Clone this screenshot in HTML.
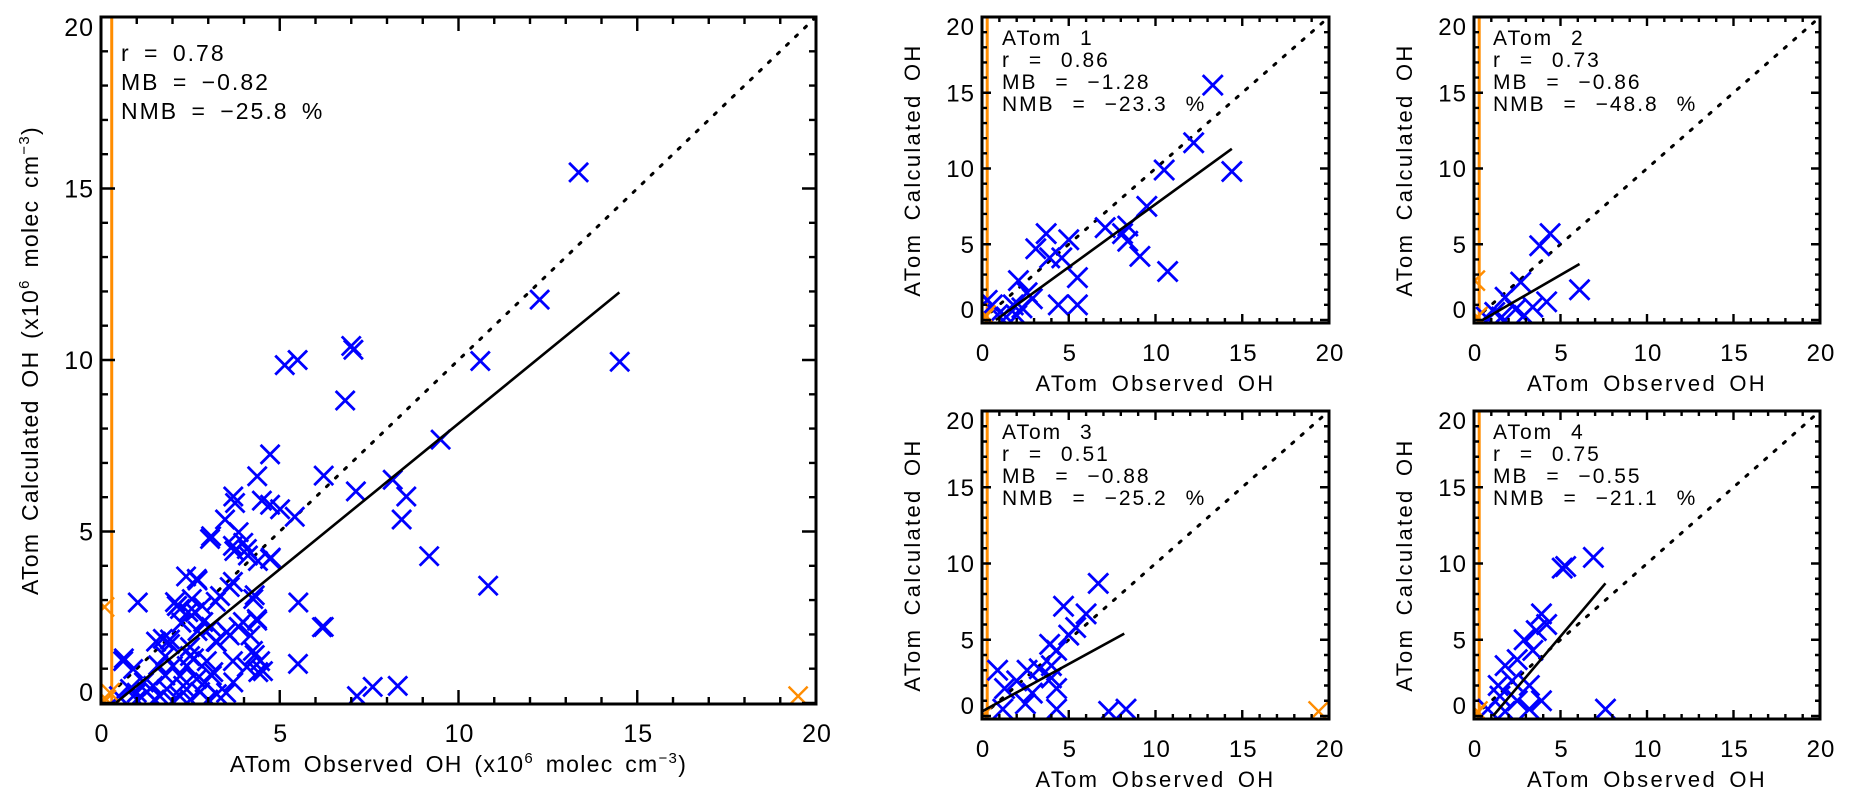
<!DOCTYPE html>
<html><head><meta charset="utf-8"><style>
html,body{margin:0;padding:0;background:#fff;}
svg{display:block;font-family:"Liberation Sans",sans-serif;}
</style></head><body>
<svg id="chart" width="1852" height="803" viewBox="0 0 1852 803" xmlns="http://www.w3.org/2000/svg"></svg>
<script>
// ---- data ----
const tickValues = [0, 5, 10, 15, 20];
const tickLabels = ["0", "5", "10", "15", "20"];

const allObs = [13.36,12.27,10.61,14.51,5.14,5.5,7.0,7.06,6.83,9.5,4.73,4.37,6.23,8.16,8.54,7.13,3.7,3.75,4.5,4.73,5.01,5.42,3.47,8.41,3.08,3.85,3.98,3.73,4.11,4.75,9.18,10.83,2.38,2.7,3.6,4.3,1.03,2.12,2.44,2.83,3.21,5.52,2.25,2.7,3.08,3.85,4.37,4.18,6.23,1.54,1.93,3.21,3.6,1.8,0.64,2.07,2.54,2.21,2.63,2.86,3.33,4.26,3.97,4.36,6.18,3.52,1.73,1.93,2.49,3.24,0.62,0.9,3.69,4.25,4.45,4.08,4.53,5.51,2.96,3.14,2.4,2.21,2.68,7.16,7.6,8.3,3.24,2.77,1.84,1.46,1.28,0.81,1.65,2.21,2.01,2.49,2.68,3.69,4.39,4.73,3.69,4.08,3.05,2.13,1.0,1.5,2.0,2.5,3.0,0.5,1.2,1.8,2.3,2.9,3.5,1.0,1.6,2.6,3.1,3.7,4.4,4.3];
const allCalc = [15.47,11.76,9.97,9.95,9.85,10.0,10.41,10.3,8.82,7.68,7.25,6.61,6.63,6.51,6.02,6.17,6.02,5.83,5.9,5.78,5.65,5.43,5.35,5.35,4.86,4.98,4.67,4.43,4.3,4.24,4.28,3.42,3.69,3.57,3.38,3.14,2.93,2.83,2.65,2.83,2.95,2.93,2.34,2.1,2.22,2.22,2.4,1.97,2.22,1.79,1.85,1.79,1.97,1.36,1.3,2.94,3.03,2.74,2.65,2.36,3.12,3.03,2.36,2.45,2.21,2.07,1.87,1.72,1.63,1.78,1.22,0.99,1.22,1.52,1.22,1.05,0.93,1.14,1.22,0.9,1.08,0.79,0.7,0.2,0.47,0.5,0.26,0.32,0.41,0.5,0.32,0.41,0.2,0.2,1.08,1.37,3.62,3.53,4.14,4.2,4.58,4.49,4.78,2.83,0.1,0.1,0.05,0.1,0.1,0.2,0.6,0.8,0.5,0.6,0.3,0.3,1.1,1.3,0.8,0.6,0.9,1.4];
const allOrangeObs = [0.1, 0.15, 0.25, 19.5];
const allOrangeCalc = [2.8, 0.1, 0.3, 0.2];
const allFitX = [0.41, 14.5];
const allFitY = [0, 11.97];
const allStats = ["r = 0.78", "MB = \u22120.82", "NMB = \u221225.8 %"];

const a1Obs = [13.3,12.2,10.5,14.4,9.5,7.1,8.4,8.1,8.4,9.1,10.7,3.7,3.1,5.0,3.9,4.6,5.5,2.1,2.6,2.9,4.4,5.5,1.8,0.6,1.4,0.3,0.9,2.0,2.3];
const a1Calc = [15.5,11.7,9.9,9.8,7.5,6.1,6.2,5.7,5.2,4.2,3.2,5.7,4.7,5.3,4.1,4.1,2.8,2.6,1.8,1.4,1.0,1.0,1.0,1.0,0.2,1.3,0.35,0.3,0.8];
const a1OrangeObs = [0.1, 0.2];
const a1OrangeCalc = [0.1, 0.3];
const a1FitX = [0.8, 14.4];
const a1FitY = [0, 11.3];
const a1Stats = ["ATom 1", "r = 0.86", "MB = \u22121.28", "NMB = \u221223.3 %"];

const a2Obs = [4.4,3.8,6.1,2.7,4.2,3.4,1.8,2.4,1.2,0.7,1.6,2.9];
const a2Calc = [5.7,4.9,2.0,2.5,1.2,0.85,1.5,0.7,0.5,0.2,0.2,0.3];
const a2OrangeObs = [0.05, 0.1, 0.2];
const a2OrangeCalc = [2.6, 0.1, 0.2];
const a2FitX = [0.5, 6.1];
const a2FitY = [0, 3.7];
const a2Stats = ["ATom 2", "r = 0.73", "MB = \u22120.86", "NMB = \u221248.8 %"];

const a3Obs = [6.7,4.7,6.0,3.9,4.3,5.0,5.4,4.0,3.3,4.0,2.6,2.0,0.9,1.3,2.9,2.5,1.2,4.3,7.3,8.3,4.3];
const a3Calc = [8.7,7.2,6.7,4.7,4.3,5.3,5.8,3.3,3.1,2.5,3.0,2.3,3.0,1.8,1.5,0.8,0.45,0.45,0.3,0.45,1.8];
const a3OrangeObs = [0.1, 19.4];
const a3OrangeCalc = [0.1, 0.3];
const a3FitX = [0, 8.2];
const a3FitY = [0.3, 5.4];
const a3Stats = ["ATom 3", "r = 0.51", "MB = \u22120.88", "NMB = \u221225.2 %"];

const a4Obs = [6.9,5.3,5.1,3.9,3.6,3.4,2.9,1.8,2.5,2.2,3.2,3.9,1.5,2.5,0.8,1.8,3.2,7.6,1.4,4.2];
const a4Calc = [10.4,9.8,9.7,6.7,5.6,4.3,5.0,3.3,3.7,2.3,2.0,1.0,1.3,1.0,0.45,0.3,0.45,0.45,2.0,6.0];
const a4OrangeObs = [0.1, 0.2];
const a4OrangeCalc = [0.1, 0.3];
const a4FitX = [1.1, 7.6];
const a4FitY = [0, 8.7];
const a4Stats = ["ATom 4", "r = 0.75", "MB = \u22120.55", "NMB = \u221221.1 %"];

// ---- drawing ----
const NS = "http://www.w3.org/2000/svg";
const svg = document.getElementById("chart");
function mk(tag, attrs, parent) {
  const e = document.createElementNS(NS, tag);
  for (const k in attrs) e.setAttribute(k, attrs[k]);
  (parent || svg).appendChild(e);
  return e;
}

function panel(p) {
  const g = mk("g", {});
  
  
  const sx = v => p.x0 + (v / 20) * (p.x1 - p.x0);
  const sy = v => p.y0 - (v / 20) * (p.y0 - p.y1);
  const cid = "clip-" + p.name;
  const cp = mk("clipPath", {id: cid}, g);
  mk("rect", {x: p.x0, y: p.y1, width: p.x1 - p.x0, height: p.yb - p.y1}, cp);
  const plot = mk("g", {"clip-path": "url(#" + cid + ")"}, g);
  const one = mk("line", {x1: sx(0), y1: sy(0), x2: sx(20), y2: sy(20), stroke: "#000", "stroke-width": 3, "stroke-dasharray": "2.5 10", "stroke-linecap": "round"}, plot);
  
  
  const ov = mk("line", {x1: sx(0.3), y1: p.yb, x2: sx(0.3), y2: p.y1, stroke: "#ff8c00", "stroke-width": 3}, plot);
  
  
  const hs = p.ms;
  for (let i = 0; i < p.obs.length; i++) {
    const cx = sx(p.obs[i]), cy = sy(p.calc[i]);
    const m = mk("path", {d: `M${cx-hs},${cy-hs}L${cx+hs},${cy+hs}M${cx+hs},${cy-hs}L${cx-hs},${cy+hs}`, stroke: "#0000ff", "stroke-width": 2.8, fill: "none"}, plot);
    
    
  }
  for (let i = 0; i < p.oobs.length; i++) {
    const cx = sx(p.oobs[i]), cy = sy(p.ocalc[i]);
    const m = mk("path", {d: `M${cx-hs},${cy-hs}L${cx+hs},${cy+hs}M${cx+hs},${cy-hs}L${cx-hs},${cy+hs}`, stroke: "#ff8c00", "stroke-width": 2.4, fill: "none"}, plot);
    
    
  }
  const fit = mk("line", {x1: sx(p.fx[0]), y1: sy(p.fy[0]), x2: sx(p.fx[1]), y2: sy(p.fy[1]), stroke: "#000", "stroke-width": 2.6}, plot);
  
  
  const fr = mk("rect", {x: p.x0, y: p.y1, width: p.x1 - p.x0, height: p.yb - p.y1, fill: "none", stroke: "#000", "stroke-width": 3}, g);
  
  
  let d = "";
  for (let v = 0; v <= 20; v++) {
    const L = (v % 5 === 0) ? p.maj : p.min;
    const x = sx(v), y = sy(v);
    d += `M${x},${p.yb}V${p.yb - L}M${x},${p.y1}V${p.y1 + L}`;
    d += `M${p.x0},${y}H${p.x0 + L}M${p.x1},${y}H${p.x1 - L}`;
  }
  const tk = mk("path", {d: d, stroke: "#000", "stroke-width": 2.4}, g);
  
  
  for (let i = 0; i < tickValues.length; i++) {
    const t = mk("text", {x: sx(tickValues[i]) + 1, y: p.xtY, "text-anchor": "middle", "font-size": p.fs, "letter-spacing": 1}, g);
    t.textContent = tickLabels[i];
    
    
    const yv = tickValues[i] === 20 ? sy(20) + p.fs * 0.75 : (tickValues[i] === 0 ? sy(0) - 2 : sy(tickValues[i]) + p.fs * 0.36);
    const u = mk("text", {x: p.x0 - 7, y: yv, "text-anchor": "end", "font-size": p.fs, "letter-spacing": 1}, g);
    u.textContent = tickLabels[i];
    
    
  }
  for (let i = 0; i < p.stats.length; i++) {
    const t = mk("text", {x: p.tx, y: p.ty + i * p.tdy, "font-size": p.tfs, "letter-spacing": 2, "word-spacing": p.ws}, g);
    t.textContent = p.stats[i];
    
    
  }
  const xt = mk("text", {x: (p.x0 + p.x1) / 2, y: p.xTitleY, "text-anchor": "middle", "font-size": p.afs, "letter-spacing": p.als, "word-spacing": 4}, g);
  
  
  if (p.big) {
    xt.innerHTML = 'ATom Observed OH (x10<tspan dy="-9" font-size="15">6</tspan><tspan dy="9"> molec cm</tspan><tspan dy="-9" font-size="15">\u22123</tspan><tspan dy="9">)</tspan>';
  } else xt.textContent = "ATom Observed OH";
  const yc = (p.y1 + p.yb) / 2;
  const yt = mk("text", {x: p.yTitleX, y: yc, "text-anchor": "middle", "font-size": p.afs, "letter-spacing": p.als, "word-spacing": 4, transform: `rotate(-90 ${p.yTitleX} ${yc})`}, g);
  
  
  if (p.big) {
    yt.innerHTML = 'ATom Calculated OH (x10<tspan dy="-9" font-size="15">6</tspan><tspan dy="9"> molec cm</tspan><tspan dy="-9" font-size="15">\u22123</tspan><tspan dy="9">)</tspan>';
  } else yt.textContent = "ATom Calculated OH";
}

panel({name: "panel-all", big: true, x0: 101, x1: 816, y0: 703, y1: 17, yb: 704, obs: allObs, calc: allCalc, oobs: allOrangeObs, ocalc: allOrangeCalc, fx: allFitX, fy: allFitY, stats: allStats, ms: 9.5, maj: 14, min: 7, fs: 25, xtY: 742, tx: 121, ty: 61, tdy: 29, tfs: 23, ws: 5, afs: 23, als: 1.3, xTitleY: 772, yTitleX: 38});
panel({name: "panel-atom1", x0: 982, x1: 1329, y0: 320, y1: 17, yb: 323, obs: a1Obs, calc: a1Calc, oobs: a1OrangeObs, ocalc: a1OrangeCalc, fx: a1FitX, fy: a1FitY, stats: a1Stats, ms: 10, maj: 9, min: 5, fs: 24, xtY: 361, tx: 1002, ty: 45, tdy: 22, tfs: 21, ws: 10, afs: 22, als: 2.3, xTitleY: 391, yTitleX: 920});
panel({name: "panel-atom2", x0: 1474, x1: 1820, y0: 320, y1: 17, yb: 323, obs: a2Obs, calc: a2Calc, oobs: a2OrangeObs, ocalc: a2OrangeCalc, fx: a2FitX, fy: a2FitY, stats: a2Stats, ms: 10, maj: 9, min: 5, fs: 24, xtY: 361, tx: 1493, ty: 45, tdy: 22, tfs: 21, ws: 10, afs: 22, als: 2.3, xTitleY: 391, yTitleX: 1412});
panel({name: "panel-atom3", x0: 982, x1: 1329, y0: 716, y1: 411, yb: 719, obs: a3Obs, calc: a3Calc, oobs: a3OrangeObs, ocalc: a3OrangeCalc, fx: a3FitX, fy: a3FitY, stats: a3Stats, ms: 10, maj: 9, min: 5, fs: 24, xtY: 757, tx: 1002, ty: 439, tdy: 22, tfs: 21, ws: 10, afs: 22, als: 2.3, xTitleY: 787, yTitleX: 920});
panel({name: "panel-atom4", x0: 1474, x1: 1820, y0: 716, y1: 411, yb: 719, obs: a4Obs, calc: a4Calc, oobs: a4OrangeObs, ocalc: a4OrangeCalc, fx: a4FitX, fy: a4FitY, stats: a4Stats, ms: 10, maj: 9, min: 5, fs: 24, xtY: 757, tx: 1493, ty: 439, tdy: 22, tfs: 21, ws: 10, afs: 22, als: 2.3, xTitleY: 787, yTitleX: 1412});
</script>
</body></html>
